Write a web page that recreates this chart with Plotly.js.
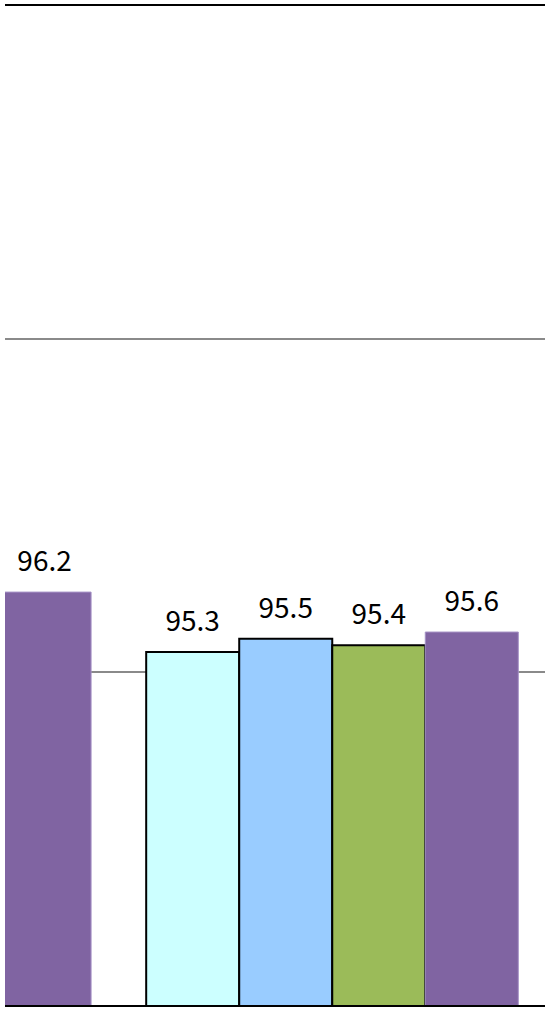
<!DOCTYPE html>
<html>
<head>
<meta charset="utf-8">
<script src="https://cdn.plot.ly/plotly-3.0.1.min.js"></script>
<style>html,body{margin:0;padding:0;background:#fff;}#chart{width:545px;height:1009px;}</style>
</head>
<body>
<div id="chart"></div>
<script>
// Data
const categories = ['Group 1', 'Group 2'];
const seriesNames = ['Series 1', 'Series 2', 'Series 3', 'Series 4'];
const series1 = [null, 95.3];
const series2 = [null, 95.5];
const series3 = [null, 95.4];
const series4 = [96.2, 95.6];
const yTicks = [90, 95, 100, 105];

const allSeries = [series1, series2, series3, series4];
const fills = ['#CCFFFF', '#99CCFF', '#9BBB59', '#8064A2'];
const outlines = ['#000000', '#000000', '#000000', '#A592C6'];
const outlineWidths = [2, 2, 2, 1];

const traces = [];
allSeries.forEach((vals, i) => {
  traces.push({
    type: 'bar',
    name: seriesNames[i],
    x: categories,
    y: vals,
    offsetgroup: String(i),
    marker: { color: fills[i], line: { color: outlines[i], width: outlineWidths[i] } },
    hoverinfo: 'y',
    showlegend: false
  });
});
allSeries.forEach((vals, i) => {
  traces.push({
    type: 'scatter',
    mode: 'markers+text',
    x: categories,
    y: vals,
    offsetgroup: String(i),
    text: vals.map(v => v == null ? '' : v.toFixed(1)),
    textposition: 'top center',
    textfont: { family: 'Noto Sans CJK JP, Roboto, sans-serif', size: 28, color: '#000000' },
    marker: { size: 21, opacity: 0, color: '#000' },
    cliponaxis: false,
    hoverinfo: 'skip',
    showlegend: false
  });
});

const layout = {
  width: 545,
  height: 1009,
  margin: { l: 5, r: 0, t: 6, b: 4, pad: 0 },
  paper_bgcolor: '#ffffff',
  plot_bgcolor: '#ffffff',
  barmode: 'group',
  bargap: 0.129,
  bargroupgap: 0,
  scattermode: 'group',
  scattergap: 0.129,
  showlegend: false,
  xaxis: {
    type: 'category',
    range: [0.234, 1.498],
    showticklabels: false,
    ticks: '',
    showgrid: false,
    showline: true,
    mirror: true,
    linecolor: '#000000',
    linewidth: 2,
    zeroline: false,
    fixedrange: true
  },
  yaxis: {
    range: [90, 105],
    tickvals: yTicks,
    showticklabels: false,
    ticks: '',
    showgrid: true,
    gridcolor: '#8a8a8a',
    gridwidth: 1.5,
    showline: false,
    zeroline: false,
    fixedrange: true
  },
  font: { family: 'Noto Sans CJK JP, Roboto, sans-serif' }
};

Plotly.newPlot('chart', traces, layout, { displayModeBar: false, staticPlot: true });
</script>
</body>
</html>
